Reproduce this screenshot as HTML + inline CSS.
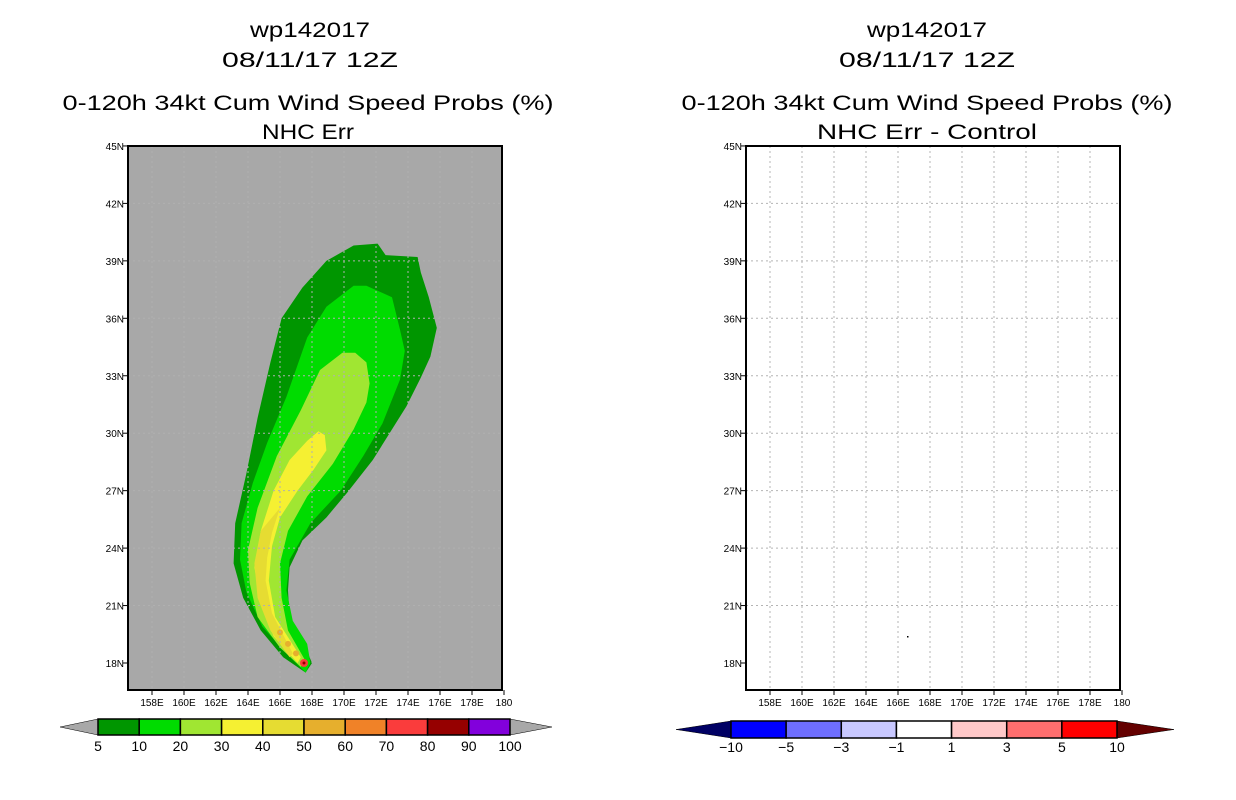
<!DOCTYPE html>
<html><head><meta charset="utf-8"><style>
html,body{margin:0;padding:0;background:#fff;}
svg{display:block;font-family:"Liberation Sans",sans-serif;}
</style></head><body>
<svg id="fig" width="1236" height="800" viewBox="0 0 1236 800">
<defs>
<clipPath id="clipL"><rect x="128" y="146" width="374" height="544"/></clipPath>
</defs>
<g font-size="21" text-anchor="middle" fill="#000">
<text x="310" y="37" textLength="120" lengthAdjust="spacingAndGlyphs">wp142017</text>
<text x="310" y="67" textLength="176" lengthAdjust="spacingAndGlyphs">08/11/17 12Z</text>
<text x="308" y="110" textLength="491" lengthAdjust="spacingAndGlyphs">0-120h 34kt Cum Wind Speed Probs (%)</text>
<text x="308" y="139" textLength="92" lengthAdjust="spacingAndGlyphs">NHC Err</text>
</g>
<g font-size="21" text-anchor="middle" fill="#000">
<text x="927" y="37" textLength="120" lengthAdjust="spacingAndGlyphs">wp142017</text>
<text x="927" y="67" textLength="176" lengthAdjust="spacingAndGlyphs">08/11/17 12Z</text>
<text x="927" y="110" textLength="491" lengthAdjust="spacingAndGlyphs">0-120h 34kt Cum Wind Speed Probs (%)</text>
<text x="927" y="139" textLength="220" lengthAdjust="spacingAndGlyphs">NHC Err - Control</text>
</g>
<g id="left"></g>
<g id="right"></g>
<g id="cbL"></g>
<g id="cbR"></g>
</svg>
<script>
const lonTicks=[158,160,162,164,166,168,170,172,174,176,178,180];
const latTicks=[18,21,24,27,30,33,36,39,42,45];
const probLevels=[5,10,20,30,40];
const probColors=["#009600","#00dc00","#a0e632","#f5f032","#e6dc32"];
const contour5=[[170.6,39.8],[172.1,39.9],[172.6,39.3],[174.6,39.2],[174.8,38.4],[175.3,37.1],[175.8,35.5],[175.4,34.0],[174.8,32.9],[173.9,31.4],[172.7,29.8],[171.8,28.6],[170.2,26.9],[168.9,25.6],[167.4,24.4],[166.6,23.0],[166.5,21.8],[166.6,20.4],[167.3,19.4],[168.0,18.0],[167.6,17.5],[166.2,18.3],[164.8,19.7],[163.7,21.4],[163.1,23.2],[163.2,25.3],[163.9,27.9],[164.6,30.8],[165.4,33.7],[166.1,36.0],[167.4,37.6],[168.9,39.0]];
const contour10=[[170.6,37.7],[171.4,37.7],[173.0,37.1],[173.5,35.4],[173.8,34.3],[173.5,32.8],[172.4,30.5],[171.2,28.8],[169.8,27.0],[167.9,25.3],[166.6,23.4],[166.4,21.8],[166.8,20.2],[167.7,19.0],[167.9,18.0],[167.6,17.5],[166.4,18.5],[164.9,19.9],[163.9,21.7],[163.5,23.4],[163.6,25.3],[164.3,27.4],[165.2,29.5],[166.4,31.9],[167.7,35.0],[168.9,36.6]];
const contour20=[[169.9,34.2],[170.7,34.2],[171.4,33.7],[171.6,32.6],[171.4,31.6],[170.6,30.2],[169.3,28.4],[167.7,26.7],[166.5,24.9],[166.0,23.2],[166.1,21.4],[166.5,19.7],[167.6,18.1],[167.3,17.8],[166.0,18.8],[164.6,20.4],[164.1,22.2],[164.0,23.9],[164.6,26.1],[165.8,28.8],[167.3,31.2],[168.5,33.3]];
const contour30=[[168.4,30.1],[168.8,29.9],[168.9,29.1],[168.1,28.1],[167.1,27.0],[166.0,25.6],[165.5,24.1],[165.3,22.3],[165.7,20.4],[167.3,18.3],[167.1,18.0],[165.6,19.4],[164.8,21.1],[164.4,23.0],[164.8,24.9],[165.6,27.0],[166.6,28.6],[167.7,29.6]];
const contour40=[[166.0,26.1],[165.5,24.8],[165.2,23.5],[165.1,22.3],[165.5,20.6],[166.8,18.5],[166.6,18.3],[165.4,19.7],[164.6,21.4],[164.4,23.2],[164.8,24.9]];
const hotLon=[166.0,166.5,167.0,167.5];
const hotLat=[19.6,19.0,18.5,18.0];
const hotVal=[50,55,60,90];
const cbLLabels=["5","10","20","30","40","50","60","70","80","90","100"];
const cbLColors=["#009600","#00dc00","#a0e632","#f5f032","#e6dc32","#e6af2d","#f08228","#fa3c3c","#960000","#8200dc"];
const cbRLabels=["-10","-5","-3","-1","1","3","5","10"];
const cbRColors=["#0000ff","#6e6eff","#c8c8ff","#ffffff","#ffc8c8","#ff6e6e","#ff0000"];

const NS="http://www.w3.org/2000/svg";
function mk(tag,attrs,parent){const e=document.createElementNS(NS,tag);for(const k in attrs)e.setAttribute(k,attrs[k]);parent.appendChild(e);return e;}
function xs(off){return lon=>off+280+(lon-166)*16;}
function ys(lat){return 663-(lat-18)*19.15;}

function drawPanel(g,off,bg){
  const fr=mk('rect',{x:off+128,y:146,width:374,height:544,fill:bg},g);
  
  
  return xs(off);
}
const L=document.getElementById('left');
const XL=drawPanel(L,0,'#a8a8a8');
const cg=mk('g',{'clip-path':'url(#clipL)'},L);


[contour5,contour10,contour20,contour30,contour40].forEach((c,i)=>{
  const p=mk('polygon',{points:c.map(q=>XL(q[0])+','+ys(q[1])).join(' '),fill:probColors[i]},cg);
  
  
});
hotLon.forEach((lo,i)=>{
  const col=hotVal[i]>=80?'#fa3c3c':'#e6af2d';
  const d=mk('circle',{cx:XL(lo),cy:ys(hotLat[i]),r:hotVal[i]>=80?4:3,fill:col},cg);
  
  
});
mk('circle',{cx:XL(167.5),cy:ys(18),r:1.5,fill:'#960000'},cg);

function grid(g,off,col){
  const X=xs(off);
  lonTicks.slice(0,-1).forEach(lo=>{const l=mk('line',{x1:X(lo),x2:X(lo),y1:146,y2:690,stroke:col,'stroke-dasharray':'2,3','stroke-width':1},g);
    });
  latTicks.slice(1,-1).forEach(la=>{const l=mk('line',{x1:off+128,x2:off+502,y1:ys(la),y2:ys(la),stroke:col,'stroke-dasharray':'2,3','stroke-width':1},g);
    });
  const b=mk('rect',{x:off+128,y:146,width:374,height:544,fill:'none',stroke:'#000','stroke-width':2},g);
  
  lonTicks.forEach(lo=>{
    mk('line',{x1:X(lo),x2:X(lo),y1:690,y2:695,stroke:'#000'},g);
    const t=mk('text',{x:X(lo),y:706,'font-size':10,'text-anchor':'middle'},g);
    t.textContent=lo===180?'180':lo+'E';
    
  });
  latTicks.forEach(la=>{
    mk('line',{x1:off+123,x2:off+128,y1:ys(la),y2:ys(la),stroke:'#000'},g);
    const t=mk('text',{x:off+124,y:ys(la)+4,'font-size':10,'text-anchor':'end'},g);
    t.textContent=la+'N';
    
  });
}
grid(L,0,'#b0b0b0');
const R=document.getElementById('right');
drawPanel(R,618,'#ffffff');
grid(R,618,'#b4b4b4');
const dot=mk('rect',{x:907,y:636,width:1.5,height:1.5,fill:'#000'},R);


function colorbar(g,x0,x1,tipL,tipR,y0,y1,colors,labels,leftTip,rightTip,ly){
  const w=(x1-x0)/colors.length, ym=(y0+y1)/2;
  const a=mk('polygon',{points:`${tipL},${ym} ${x0},${y0} ${x0},${y1}`,fill:leftTip,stroke:'#000','stroke-width':0.5},g);
  
  const b=mk('polygon',{points:`${tipR},${ym} ${x1},${y0} ${x1},${y1}`,fill:rightTip,stroke:'#000','stroke-width':0.5},g);
  
  colors.forEach((c,i)=>{const r=mk('rect',{x:x0+i*w,y:y0,width:w,height:y1-y0,fill:c,stroke:'#000','stroke-width':1.5},g);
    });
  labels.forEach((s,i)=>{const t=mk('text',{x:x0+i*w,y:ly,'font-size':14,'text-anchor':'middle'},g);
    t.textContent=s.replace('-','\u2212');
    });
}
colorbar(document.getElementById('cbL'),98,510,60,552,719,735,cbLColors,cbLLabels,'#a8a8a8','#a8a8a8',751);
colorbar(document.getElementById('cbR'),731,1117,676,1174,721,738,cbRColors,cbRLabels,'#000064','#640000',752);
</script>
</body></html>
